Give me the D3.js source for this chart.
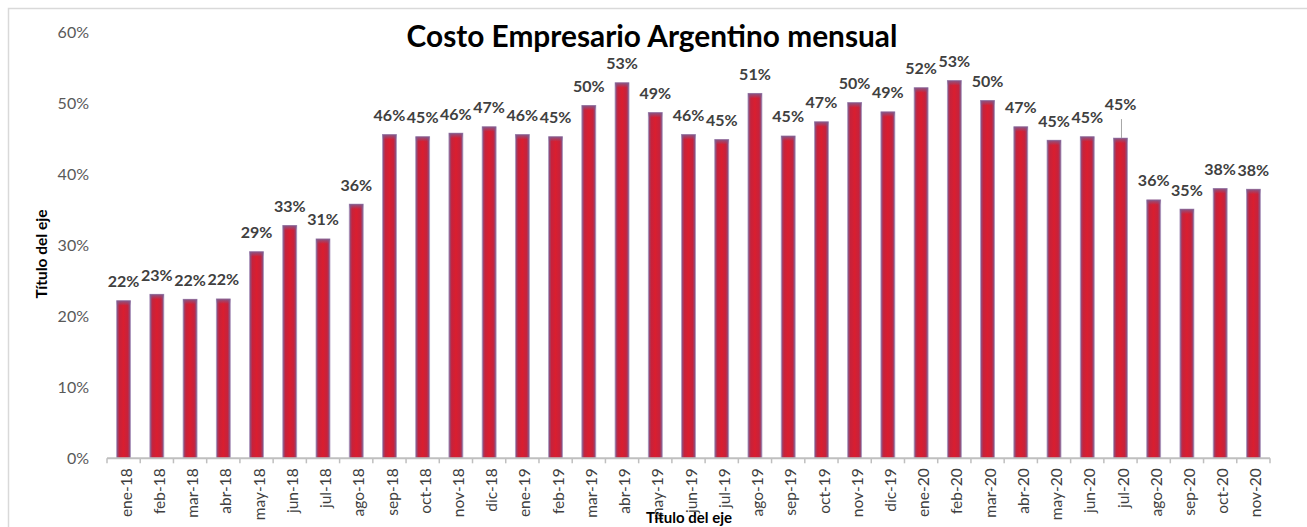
<!DOCTYPE html>
<html>
<head>
<meta charset="utf-8">
<script src="https://cdn.jsdelivr.net/npm/d3@7/dist/d3.min.js"></script>
<style>
  html, body { margin: 0; padding: 0; background: #ffffff; }
  svg { display: block; }
</style>
</head>
<body>
<svg id="chart" width="1307" height="527"></svg>
<script>
// ---- Data ----
const categories = [
  "ene-18","feb-18","mar-18","abr-18","may-18","jun-18","jul-18","ago-18","sep-18","oct-18","nov-18","dic-18",
  "ene-19","feb-19","mar-19","abr-19","may-19","jun-19","jul-19","ago-19","sep-19","oct-19","nov-19","dic-19",
  "ene-20","feb-20","mar-20","abr-20","may-20","jun-20","jul-20","ago-20","sep-20","oct-20","nov-20"
];
const costoValues = [
  22.2, 23.1, 22.4, 22.45, 29.1, 32.8, 30.9, 35.8, 45.6, 45.3, 45.8, 46.7,
  45.6, 45.3, 49.7, 52.9, 48.7, 45.6, 44.9, 51.4, 45.4, 47.4, 50.1, 48.8,
  52.2, 53.2, 50.4, 46.7, 44.8, 45.3, 45.1, 36.4, 35.1, 38.0, 37.9
];
const yTicks = [0, 10, 20, 30, 40, 50, 60];
const titleText = "Costo Empresario Argentino mensual";
const yAxisTitle = "Título del eje";
const xAxisTitle = "Título del eje";
const movedLabel = "jul-20"; // label dragged upward with leader line

// ---- Layout ----
const svg = d3.select("#chart");
const plot = { left: 107, right: 1270, top: 32.3, bottom: 458.3 };

const x = d3.scaleBand()
  .domain(categories)
  .range([plot.left, plot.right])
  .paddingInner(0.58)
  .paddingOuter(0.29);
const step = x.step();
const y = d3.scaleLinear().domain([0, 60]).range([plot.bottom, plot.top]);

// chart border
svg.append("rect")
  .attr("x", 8.5).attr("y", 8.5)
  .attr("width", 1400).attr("height", 600)
  .attr("fill", "none").attr("stroke", "#d9d9d9").attr("stroke-width", 1.5);

// gradients
const defs = svg.append("defs");
const g1 = defs.append("linearGradient").attr("id", "barGrad")
  .attr("x1", "0").attr("x2", "1").attr("y1", "0").attr("y2", "0");
[[0, "#7d5d90"], [0.2, "#c6223c"], [0.5, "#da1e2f"], [0.8, "#c6223c"], [1, "#7d5d90"]]
  .forEach(([o, c]) => g1.append("stop").attr("offset", o).attr("stop-color", c));
const g2 = defs.append("linearGradient").attr("id", "topGrad")
  .attr("x1", "0").attr("x2", "0").attr("y1", "0").attr("y2", "1");
g2.append("stop").attr("offset", 0).attr("stop-color", "#7d5d90").attr("stop-opacity", 0.9);
g2.append("stop").attr("offset", 1).attr("stop-color", "#7d5d90").attr("stop-opacity", 0);

const FONT = "Lato, 'Open Sans', sans-serif";

// y tick labels
svg.append("g").selectAll("text")
  .data(yTicks).join("text")
  .attr("x", 89)
  .attr("y", d => y(d))
  .attr("dy", "0.36em")
  .attr("text-anchor", "end")
  .attr("font-family", FONT)
  .attr("font-size", 16)
  .attr("fill", "#595959")
  .text(d => d + "%");

// bars
const bars = svg.append("g");
bars.selectAll("rect.bar")
  .data(categories).join("rect")
  .attr("class", "bar")
  .attr("x", d => x(d))
  .attr("y", (d, i) => y(costoValues[i]))
  .attr("width", x.bandwidth())
  .attr("height", (d, i) => y(0) - y(costoValues[i]))
  .attr("fill", "url(#barGrad)")
  .attr("stroke", "#ad97bd")
  .attr("stroke-width", 0.8);
bars.selectAll("rect.top")
  .data(categories).join("rect")
  .attr("class", "top")
  .attr("x", d => x(d))
  .attr("y", (d, i) => y(costoValues[i]))
  .attr("width", x.bandwidth())
  .attr("height", 5)
  .attr("fill", "url(#topGrad)");

// x axis line and ticks
const ax = svg.append("g");
ax.append("line")
  .attr("x1", plot.left).attr("x2", plot.right)
  .attr("y1", plot.bottom).attr("y2", plot.bottom)
  .attr("stroke", "#bfbfbf").attr("stroke-width", 2);
ax.selectAll("line.tick")
  .data(d3.range(categories.length + 1)).join("line")
  .attr("class", "tick")
  .attr("x1", i => plot.left + i * step)
  .attr("x2", i => plot.left + i * step)
  .attr("y1", plot.bottom)
  .attr("y2", plot.bottom + 5)
  .attr("stroke", "#bfbfbf").attr("stroke-width", 1.5);

// x tick labels
ax.selectAll("text.xl")
  .data(categories).join("text")
  .attr("class", "xl")
  .attr("transform", d => `translate(${x(d) + x.bandwidth() / 2 + 2.5},${plot.bottom + 10}) rotate(-90)`)
  .attr("dy", "0.36em")
  .attr("text-anchor", "end")
  .attr("font-family", FONT)
  .attr("font-size", 15.5)
  .attr("fill", "#404040")
  .text(d => d);

// data labels
const labelGap = 13.5, liftGap = 28;
svg.append("g").selectAll("text")
  .data(categories).join("text")
  .attr("x", d => x(d) + x.bandwidth() / 2)
  .attr("y", (d, i) => y(costoValues[i]) - (d === movedLabel ? liftGap : labelGap))
  .attr("text-anchor", "middle")
  .attr("font-family", FONT)
  .attr("font-weight", "bold")
  .attr("font-size", 16)
  .attr("fill", "#404040")
  .text((d, i) => Math.round(costoValues[i]) + "%");

// leader line for moved label
const mi = categories.indexOf(movedLabel);
svg.append("line")
  .attr("x1", x(movedLabel) + x.bandwidth() / 2 + 1)
  .attr("x2", x(movedLabel) + x.bandwidth() / 2 + 1)
  .attr("y1", y(costoValues[mi]) - liftGap + 9)
  .attr("y2", y(costoValues[mi]))
  .attr("stroke", "#a6a6a6").attr("stroke-width", 1);

// title
const title = svg.append("text")
  .attr("x", 652)
  .attr("y", 46.5)
  .attr("text-anchor", "middle")
  .attr("font-family", FONT)
  .attr("font-weight", "bold")
  .attr("font-size", 28)
  .attr("fill", "#000000")
  .text(titleText);
const tl = title.node().getComputedTextLength();
title.attr("font-size", 28 * 491 / tl);

// axis titles
svg.append("text")
  .attr("transform", "translate(47,254) rotate(-90)")
  .attr("text-anchor", "middle")
  .attr("font-family", FONT)
  .attr("font-weight", "bold")
  .attr("font-size", 15.5)
  .attr("fill", "#000000")
  .text(yAxisTitle);
svg.append("text")
  .attr("x", 689)
  .attr("y", 523)
  .attr("text-anchor", "middle")
  .attr("font-family", FONT)
  .attr("font-weight", "bold")
  .attr("font-size", 15)
  .attr("fill", "#000000")
  .text(xAxisTitle);
</script>
</body>
</html>
